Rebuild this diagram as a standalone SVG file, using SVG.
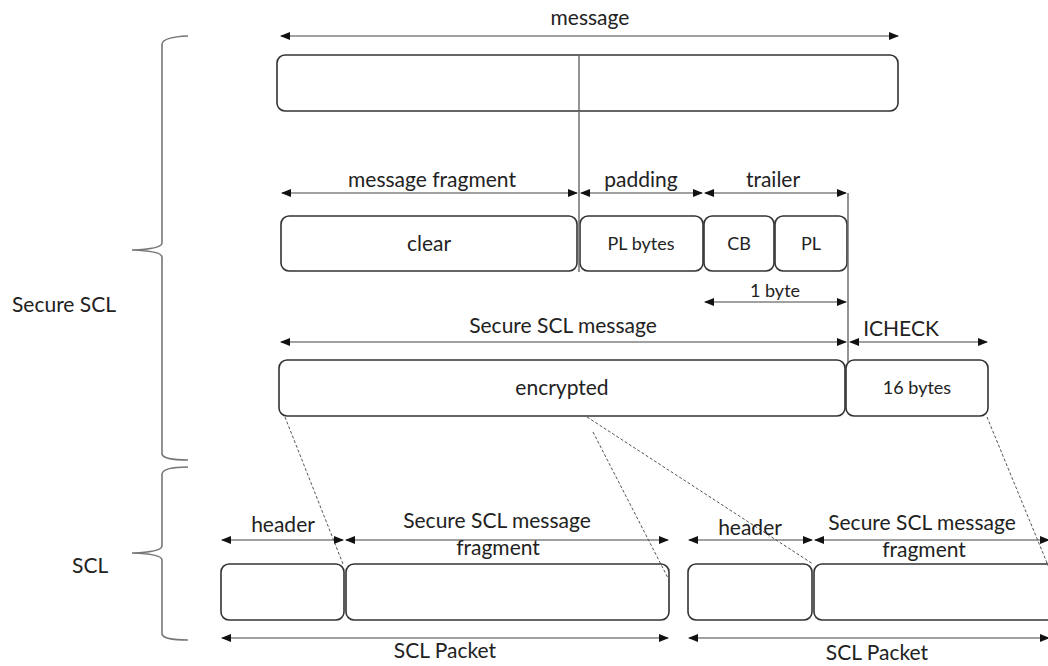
<svg xmlns="http://www.w3.org/2000/svg" width="1048" height="666" viewBox="0 0 1048 666">
<defs>
<marker id="ah" markerUnits="userSpaceOnUse" markerWidth="10" markerHeight="10" refX="9" refY="4" orient="auto-start-reverse">
<path d="M0,0 L10,4 L0,8 z" fill="#111"/>
</marker>
<style>
.box{fill:#fff;stroke:#333;stroke-width:1.6}
.dim{stroke:#444;stroke-width:1.2;fill:none;marker-start:url(#ah);marker-end:url(#ah)}
.vl{stroke:#666;stroke-width:1.4;fill:none}
.dash{stroke:#555;stroke-width:1;stroke-dasharray:3,2;fill:none}
.brace{stroke:#777;stroke-width:1.6;fill:none}
text{font-family:Lato,"Liberation Sans",sans-serif;fill:#222;text-anchor:middle}
.t{font-size:21px}
.s{font-size:18px}
</style>
</defs>
<rect width="1048" height="666" fill="#fff"/>

<g id="braces">
<path class="brace" d="M188,36 Q163,37 162,44 L162,243 Q162,249 132,250 Q162,251 162,257 L162,454 Q163,460 188,460"/>
<path class="brace" d="M188,467 Q163,467 162,474 L162,546 Q162,552 132,553 Q162,554 162,560 L162,634 Q163,640 188,640"/>
</g>
<g id="label-secure-scl"><text class="t" x="12" y="312" style="text-anchor:start">Secure SCL</text></g>
<g id="label-scl"><text class="t" x="72" y="573" style="text-anchor:start">SCL</text></g>

<g id="message"><rect class="box" x="277" y="55" width="621" height="56" rx="8"/></g>
<g id="clear"><rect class="box" x="281" y="216" width="296" height="55" rx="8"/><text class="t" x="429" y="251">clear</text></g>
<g id="pl-bytes"><rect class="box" x="580" y="216" width="123" height="55" rx="8"/><text class="s" x="641" y="250">PL bytes</text></g>
<g id="cb"><rect class="box" x="704" y="216" width="70" height="55" rx="8"/><text class="s" x="739" y="250">CB</text></g>
<g id="pl"><rect class="box" x="775" y="216" width="72" height="55" rx="8"/><text class="s" x="811" y="250">PL</text></g>
<g id="encrypted"><rect class="box" x="279" y="360" width="566" height="56" rx="8"/><text class="t" x="562" y="395">encrypted</text></g>
<g id="icheck"><rect class="box" x="846" y="360" width="142" height="56" rx="8"/><text class="s" x="917" y="394">16 bytes</text></g>
<g id="header1"><rect class="box" x="221" y="564" width="123" height="56" rx="8"/></g>
<g id="frag1"><rect class="box" x="346" y="564" width="323" height="56" rx="8"/></g>
<g id="header2"><rect class="box" x="688" y="564" width="124" height="56" rx="8"/></g>
<g id="frag2"><rect class="box" x="814" y="564" width="250" height="56" rx="8"/></g>

<g id="connectors">
<line class="vl" x1="579" y1="55" x2="579" y2="272"/>
<line class="vl" x1="848" y1="193" x2="848" y2="362"/>
<line class="dim" x1="281" y1="36" x2="898" y2="36"/>
<line class="dim" x1="282" y1="193" x2="577" y2="193"/>
<line class="dim" x1="581" y1="193" x2="702" y2="193"/>
<line class="dim" x1="705" y1="193" x2="846" y2="193"/>
<line class="dim" x1="705" y1="302" x2="846" y2="302"/>
<line class="dim" x1="281" y1="342" x2="846" y2="342"/>
<line class="dim" x1="850" y1="342" x2="987" y2="342"/>
<line class="dim" x1="222" y1="540" x2="343" y2="540"/>
<line class="dim" x1="346" y1="540" x2="668" y2="540"/>
<line class="dim" x1="689" y1="540" x2="812" y2="540"/>
<line class="dim" x1="815" y1="540" x2="1049" y2="540"/>
<line class="dim" x1="222" y1="638" x2="668" y2="638"/>
<line class="dim" x1="689" y1="638" x2="1049" y2="638"/>
<line class="dash" x1="285" y1="417" x2="343" y2="564"/>
<line class="dash" x1="593" y1="432" x2="668" y2="578"/>
<line class="dash" x1="587" y1="417" x2="813" y2="564"/>
<line class="dash" x1="987" y1="417" x2="1052" y2="575"/>
</g>

<g id="labels">
<text class="t" x="590" y="25">message</text>
<text class="t" x="432" y="187">message fragment</text>
<text class="t" x="641" y="187">padding</text>
<text class="t" x="773" y="187">trailer</text>
<text class="s" x="775" y="297">1 byte</text>
<text class="t" x="563" y="333">Secure SCL message</text>
<text class="t" x="901" y="336">ICHECK</text>
<text class="t" x="283" y="532">header</text>
<text class="t" x="497" y="528">Secure SCL message</text>
<text class="t" x="498" y="555">fragment</text>
<text class="t" x="445" y="658">SCL Packet</text>
<text class="t" x="750" y="535">header</text>
<text class="t" x="922" y="530">Secure SCL message</text>
<text class="t" x="924" y="557">fragment</text>
<text class="t" x="877" y="660">SCL Packet</text>
</g>
</svg>
